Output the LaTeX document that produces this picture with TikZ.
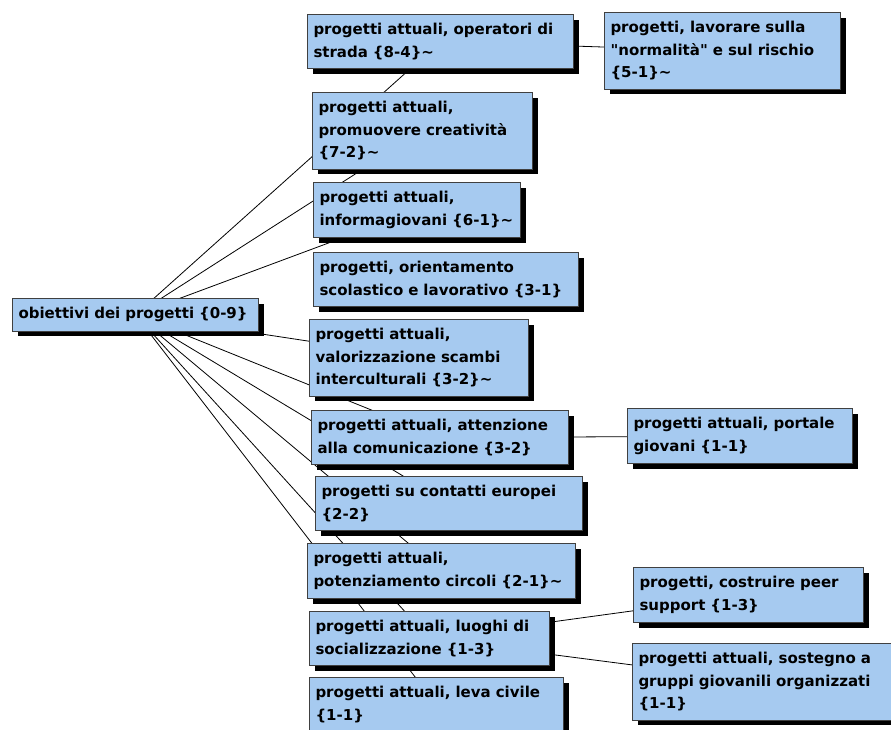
\documentclass[tikz,border=0pt]{standalone}
\usepackage{fontspec}
\setmainfont{DejaVu Sans}[Ligatures=TeXOff]
\usetikzlibrary{shadows,backgrounds}
\definecolor{celeste}{HTML}{A6CAF0}
\definecolor{bordo}{HTML}{404040}

\begin{document}
\begin{tikzpicture}[x=1pt,y=-1pt,
    codice/.style={draw=bordo,line width=1pt,fill=celeste,anchor=north west,align=left,
      inner xsep=6pt,inner ysep=9pt,text width=#1-12pt,font=\fontsize{15}{22.5}\selectfont\bfseries,
      drop shadow={shadow xshift=5pt,shadow yshift=-5pt,fill=black,opacity=1}},
    legame/.style={line width=0.8pt}]
\useasboundingbox (0,0) rectangle (891,729);
\clip (0,0) rectangle (891,729);
% codici
\node[codice=246pt] (obiettivi) at (12,298) {obiettivi dei progetti \{0-9\}};
\node[codice=266pt] (strada) at (307,14) {progetti attuali, operatori di\\strada \{8-4\}\textasciitilde};
\node[codice=236pt] (normalita) at (604,12) {progetti, lavorare sulla\\"normalità" e sul rischio\\\{5-1\}\textasciitilde};
\node[codice=220pt] (creativita) at (312,92) {progetti attuali,\\promuovere creatività\\\{7-2\}\textasciitilde};
\node[codice=207pt] (informa) at (313,182) {progetti attuali,\\informagiovani \{6-1\}\textasciitilde};
\node[codice=265pt] (orienta) at (313,252) {progetti, orientamento\\scolastico e lavorativo \{3-1\}};
\node[codice=219pt] (scambi) at (309,319) {progetti attuali,\\valorizzazione scambi\\interculturali \{3-2\}\textasciitilde};
\node[codice=257pt] (comunica) at (311,410) {progetti attuali, attenzione\\alla comunicazione \{3-2\}};
\node[codice=225pt] (portale) at (627,408) {progetti attuali, portale\\giovani \{1-1\}};
\node[codice=267pt] (europei) at (315,476) {progetti su contatti europei\\\{2-2\}};
\node[codice=268pt] (circoli) at (307,543) {progetti attuali,\\potenziamento circoli \{2-1\}\textasciitilde};
\node[codice=240pt] (luoghi) at (309,611) {progetti attuali, luoghi di\\socializzazione \{1-3\}};
\node[codice=230pt] (peer) at (633,567) {progetti, costruire peer\\support \{1-3\}};
\node[codice=262pt] (gruppi) at (632,643) {progetti attuali, sostegno a\\gruppi giovanili organizzati\\\{1-1\}};
\node[codice=254pt] (leva) at (309,677) {progetti attuali, leva civile\\\{1-1\}};
% legami (dietro ai codici)
\begin{scope}[on background layer]
\fill[white] (0,0) rectangle (891,729);
\foreach \c in {strada,creativita,informa,scambi,comunica,europei,circoli,luoghi,leva}
  \draw[legame] (obiettivi.center) -- (\c.center);
\draw[legame] (strada.center) -- (normalita.center);
\draw[legame] (comunica.center) -- (portale.center);
\draw[legame] (luoghi.center) -- (peer.center);
\draw[legame] (luoghi.center) -- (gruppi.center);
\end{scope}
\end{tikzpicture}
\end{document}
